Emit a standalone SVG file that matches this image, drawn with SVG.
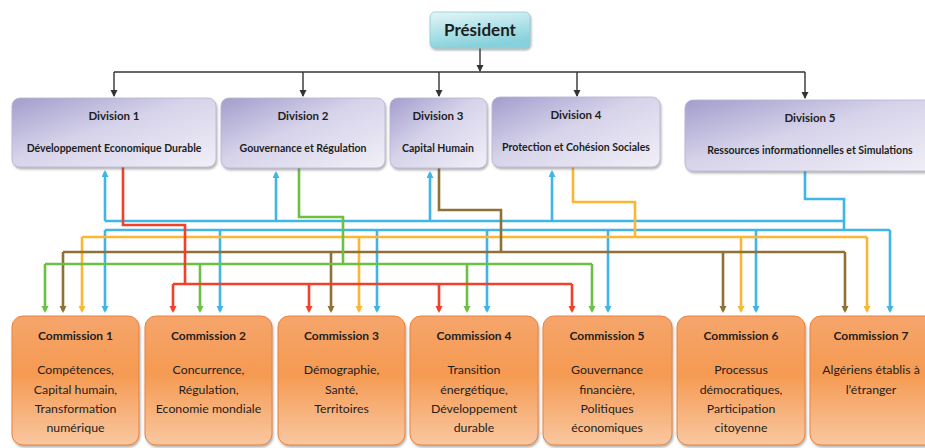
<svg xmlns="http://www.w3.org/2000/svg" width="925" height="448" viewBox="0 0 925 448">
<style>
.t{font-family:Lato,"Liberation Sans",sans-serif;fill:#1e1e1e;text-anchor:middle}
.pres{font-size:17px;font-weight:bold}
.dt{font-size:11.5px;font-weight:bold}
.ds{font-size:10.5px;font-weight:bold}
.ct{font-size:12px;font-weight:bold}
.cb{font-size:12.3px}
.div{fill:url(#gDiv);stroke:#b8b4d0;stroke-width:0.8;filter:url(#sh)}
.com{fill:url(#gCom);stroke:#e7843e;stroke-width:1;filter:url(#sh)}
.c{fill:none;stroke-width:2.6;stroke-linejoin:miter}
.k{fill:none;stroke:#333;stroke-width:1.4}
.bl{stroke:#3fb6e6}.rd{stroke:#f2412b}.gr{stroke:#6cc043}.ye{stroke:#fbb733}.br{stroke:#8f7035}
</style>
<defs>
<linearGradient id="gDiv" x1="0" y1="0" x2="1" y2="1">
<stop offset="0" stop-color="#a39dcc"/><stop offset="0.45" stop-color="#d6d3ea"/><stop offset="1" stop-color="#f1f0f7"/>
</linearGradient>
<linearGradient id="gCom" x1="0" y1="0" x2="0" y2="1">
<stop offset="0" stop-color="#f6a56c"/><stop offset="0.45" stop-color="#f59a52"/><stop offset="1" stop-color="#f9c7a0"/>
</linearGradient>
<linearGradient id="gPres" x1="0" y1="0" x2="0.3" y2="1">
<stop offset="0" stop-color="#e4f6f8"/><stop offset="1" stop-color="#86d1db"/>
</linearGradient>
<filter id="sh" x="-5%" y="-5%" width="110%" height="115%">
<feDropShadow dx="1" dy="2" stdDeviation="1.2" flood-color="#555" flood-opacity="0.45"/>
</filter>
<marker id="aK" markerWidth="8" markerHeight="8" refX="6" refY="3.5" orient="auto" markerUnits="userSpaceOnUse"><path d="M0,0 L7,3.5 L0,7 z" fill="#333"/></marker>
<marker id="aB" markerWidth="8" markerHeight="8" refX="5" refY="3.5" orient="auto" markerUnits="userSpaceOnUse"><path d="M0,0 L7,3.5 L0,7 z" fill="#3fb6e6"/></marker>
<marker id="aR" markerWidth="8" markerHeight="8" refX="5" refY="3.5" orient="auto" markerUnits="userSpaceOnUse"><path d="M0,0 L7,3.5 L0,7 z" fill="#f2412b"/></marker>
<marker id="aG" markerWidth="8" markerHeight="8" refX="5" refY="3.5" orient="auto" markerUnits="userSpaceOnUse"><path d="M0,0 L7,3.5 L0,7 z" fill="#6cc043"/></marker>
<marker id="aY" markerWidth="8" markerHeight="8" refX="5" refY="3.5" orient="auto" markerUnits="userSpaceOnUse"><path d="M0,0 L7,3.5 L0,7 z" fill="#fbb733"/></marker>
<marker id="aN" markerWidth="8" markerHeight="8" refX="5" refY="3.5" orient="auto" markerUnits="userSpaceOnUse"><path d="M0,0 L7,3.5 L0,7 z" fill="#8f7035"/></marker>
</defs>
<rect width="925" height="448" fill="#ffffff"/>

<g id="connectors">
<!-- black hierarchy -->
<path class="k" d="M480,48 V71" marker-end="url(#aK)"/>
<path class="k" d="M114,72 H805"/>
<path class="k" d="M114,72 V96" marker-end="url(#aK)"/>
<path class="k" d="M303,72 V96" marker-end="url(#aK)"/>
<path class="k" d="M439,72 V96" marker-end="url(#aK)"/>
<path class="k" d="M577,72 V96" marker-end="url(#aK)"/>
<path class="k" d="M805,72 V98" marker-end="url(#aK)"/>
<!-- blue -->
<path class="c bl" d="M105,221 H844"/>
<path class="c bl" d="M105,221 V172" marker-end="url(#aB)"/>
<path class="c bl" d="M276,221 V173" marker-end="url(#aB)"/>
<path class="c bl" d="M430,221 V173" marker-end="url(#aB)"/>
<path class="c bl" d="M552,221 V172" marker-end="url(#aB)"/>
<path class="c bl" d="M805,171 V199 H844 V230"/>
<path class="c bl" d="M105,230 H890"/>
<path class="c bl" d="M105,230 V311" marker-end="url(#aB)"/>
<path class="c bl" d="M220,230 V311" marker-end="url(#aB)"/>
<path class="c bl" d="M377,230 V311" marker-end="url(#aB)"/>
<path class="c bl" d="M487,230 V311" marker-end="url(#aB)"/>
<path class="c bl" d="M608,230 V311" marker-end="url(#aB)"/>
<path class="c bl" d="M756,230 V311" marker-end="url(#aB)"/>
<path class="c bl" d="M890,230 V311" marker-end="url(#aB)"/>
<!-- yellow -->
<path class="c ye" d="M573,167 V202 H635 V237"/>
<path class="c ye" d="M82,237 H867"/>
<path class="c ye" d="M82,237 V311" marker-end="url(#aY)"/>
<path class="c ye" d="M359,237 V311" marker-end="url(#aY)"/>
<path class="c ye" d="M741,237 V311" marker-end="url(#aY)"/>
<path class="c ye" d="M867,237 V311" marker-end="url(#aY)"/>
<!-- brown -->
<path class="c br" d="M439,168 V210 H501 V252"/>
<path class="c br" d="M63,252 H845"/>
<path class="c br" d="M63,252 V311" marker-end="url(#aN)"/>
<path class="c br" d="M331,252 V311" marker-end="url(#aN)"/>
<path class="c br" d="M723,252 V311" marker-end="url(#aN)"/>
<path class="c br" d="M845,252 V311" marker-end="url(#aN)"/>
<!-- green -->
<path class="c gr" d="M299,168 V217 H343 V264"/>
<path class="c gr" d="M45,264 H592"/>
<path class="c gr" d="M45,264 V311" marker-end="url(#aG)"/>
<path class="c gr" d="M200,264 V311" marker-end="url(#aG)"/>
<path class="c gr" d="M467,264 V311" marker-end="url(#aG)"/>
<path class="c gr" d="M592,264 V311" marker-end="url(#aG)"/>
<!-- red -->
<path class="c rd" d="M123,167 V225 H185 V284"/>
<path class="c rd" d="M173,284 H572"/>
<path class="c rd" d="M173,284 V311" marker-end="url(#aR)"/>
<path class="c rd" d="M309,284 V311" marker-end="url(#aR)"/>
<path class="c rd" d="M439,284 V311" marker-end="url(#aR)"/>
<path class="c rd" d="M572,284 V311" marker-end="url(#aR)"/>
</g>

<g id="president">
<rect x="430" y="12" width="100" height="36" rx="5" fill="url(#gPres)" stroke="#8fcdd6" stroke-width="0.8" filter="url(#sh)"/>
<text class="t pres" x="480" y="36">Président</text>
</g>

<g id="division1">
<rect class="div" x="12" y="98" width="204" height="69" rx="8"/>
<text class="t dt" x="114" y="120">Division 1</text>
<text class="t ds" x="114" y="152">Développement Economique Durable</text>
</g>
<g id="division2">
<rect class="div" x="221" y="98" width="164" height="70" rx="8"/>
<text class="t dt" x="303" y="120">Division 2</text>
<text class="t ds" x="303" y="152">Gouvernance et Régulation</text>
</g>
<g id="division3">
<rect class="div" x="390" y="98" width="97" height="70" rx="8"/>
<text class="t dt" x="438" y="120">Division 3</text>
<text class="t ds" x="438" y="152">Capital Humain</text>
</g>
<g id="division4">
<rect class="div" x="492" y="97" width="168" height="70" rx="8"/>
<text class="t dt" x="576" y="119">Division 4</text>
<text class="t ds" x="576" y="151">Protection et Cohésion Sociales</text>
</g>
<g id="division5">
<rect class="div" x="685" y="100" width="252" height="71" rx="8"/>
<text class="t dt" x="810" y="122">Division 5</text>
<text class="t ds" x="810" y="154">Ressources informationnelles et Simulations</text>
</g>

<g id="commission1">
<rect class="com" x="12" y="316" width="127" height="129" rx="11"/>
<text class="t ct" x="75.5" y="340">Commission 1</text>
<text class="t cb" x="75.5" y="374">Compétences,</text>
<text class="t cb" x="75.5" y="394">Capital humain,</text>
<text class="t cb" x="75.5" y="413">Transformation</text>
<text class="t cb" x="75.5" y="432">numérique</text>
</g>
<g id="commission2">
<rect class="com" x="145" y="316" width="127" height="129" rx="11"/>
<text class="t ct" x="208.5" y="340">Commission 2</text>
<text class="t cb" x="208.5" y="374">Concurrence,</text>
<text class="t cb" x="208.5" y="394">Régulation,</text>
<text class="t cb" x="208.5" y="413">Economie mondiale</text>
</g>
<g id="commission3">
<rect class="com" x="278" y="316" width="127" height="129" rx="11"/>
<text class="t ct" x="341.5" y="340">Commission 3</text>
<text class="t cb" x="341.5" y="374">Démographie,</text>
<text class="t cb" x="341.5" y="394">Santé,</text>
<text class="t cb" x="341.5" y="413">Territoires</text>
</g>
<g id="commission4">
<rect class="com" x="410" y="316" width="128" height="129" rx="11"/>
<text class="t ct" x="474" y="340">Commission 4</text>
<text class="t cb" x="474" y="374">Transition</text>
<text class="t cb" x="474" y="394">énergétique,</text>
<text class="t cb" x="474" y="413">Développement</text>
<text class="t cb" x="474" y="432">durable</text>
</g>
<g id="commission5">
<rect class="com" x="543" y="316" width="129" height="129" rx="11"/>
<text class="t ct" x="607" y="340">Commission 5</text>
<text class="t cb" x="607" y="374">Gouvernance</text>
<text class="t cb" x="607" y="394">financière,</text>
<text class="t cb" x="607" y="413">Politiques</text>
<text class="t cb" x="607" y="432">économiques</text>
</g>
<g id="commission6">
<rect class="com" x="677" y="316" width="128" height="129" rx="11"/>
<text class="t ct" x="741" y="340">Commission 6</text>
<text class="t cb" x="741" y="374">Processus</text>
<text class="t cb" x="741" y="394">démocratiques,</text>
<text class="t cb" x="741" y="413">Participation</text>
<text class="t cb" x="741" y="432">citoyenne</text>
</g>
<g id="commission7">
<rect class="com" x="810" y="316" width="128" height="129" rx="11"/>
<text class="t ct" x="871" y="340">Commission 7</text>
<text class="t cb" x="871" y="374">Algériens établis à</text>
<text class="t cb" x="871" y="394">l’étranger</text>
</g>
</svg>
